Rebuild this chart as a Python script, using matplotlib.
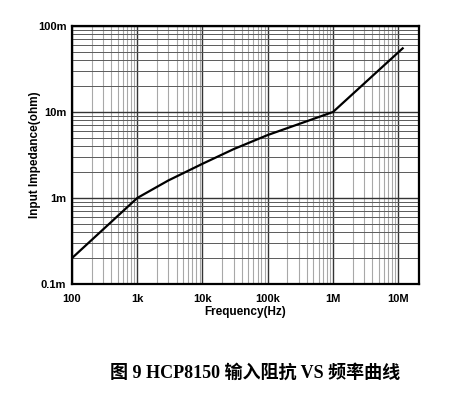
import matplotlib
matplotlib.use('Agg')
from matplotlib import pyplot as pl
from matplotlib.ticker import FixedLocator, LogLocator, NullFormatter

# Curve
freq = [100, 1e3, 3e3, 1e4, 3e4, 1e5, 1e6, 1.17e7]
imped = [0.2e-3, 1.0e-3, 1.6e-3, 2.5e-3, 3.7e-3, 5.4e-3, 10e-3, 55e-3]

xticks = [1e2, 1e3, 1e4, 1e5, 1e6, 1e7]
xlabels = ['100', '1k', '10k', '100k', '1M', '10M']
yticks = [1e-4, 1e-3, 1e-2, 1e-1]
ylabels = ['0.1m', '1m', '10m', '100m']

caption = '图 9 HCP8150 输入阻抗 VS 频率曲线'

lab = dict(family='Liberation Sans', weight='bold')

fig = pl.figure(figsize=(4.73, 3.93), dpi=100)
ax = fig.add_axes([0.1522, 0.2774, 0.7336, 0.6564])

ax.set_xscale('log')
ax.set_yscale('log')
ax.set_xlim(100, 2.08e7)
ax.set_ylim(1e-4, 1e-1)

# Grid: minor verticals light, minor horizontals darker, decades dark
ax.xaxis.set_minor_locator(LogLocator(base=10, subs=range(2, 10)))
ax.yaxis.set_minor_locator(LogLocator(base=10, subs=range(2, 10)))
ax.xaxis.set_minor_formatter(NullFormatter())
ax.yaxis.set_minor_formatter(NullFormatter())
ax.grid(which='minor', axis='x', color='#a8a8a8', linewidth=0.8)
ax.grid(which='minor', axis='y', color='#5a5a5a', linewidth=0.7)
ax.grid(which='major', color='#333333', linewidth=1.0)

ax.plot(freq, imped, color='black', linewidth=1.6, zorder=3)

ax.xaxis.set_major_locator(FixedLocator(xticks))
ax.yaxis.set_major_locator(FixedLocator(yticks))
ax.set_xticklabels(xlabels, fontsize=8, **lab)
ax.set_yticklabels(ylabels, fontsize=8, **lab)
ax.tick_params(which='both', length=0)
ax.tick_params(axis='x', pad=7)
ax.tick_params(axis='y', pad=4)

for s in ax.spines.values():
    s.set_linewidth(1.6)
    s.set_color('black')

ax.set_xlabel('Frequency(Hz)', fontsize=8.5, labelpad=2, **lab)
ax.set_ylabel('Input Impedance(ohm)', fontsize=8.5, va='center', **lab)
ax.yaxis.set_label_coords(-0.107, 0.5)

fig.text(0.539, 0.051, caption, ha='center', va='center', fontsize=13,
         weight='bold', family=['Liberation Serif', 'Noto Sans CJK SC'])

fig.savefig('out.png', dpi=100)
